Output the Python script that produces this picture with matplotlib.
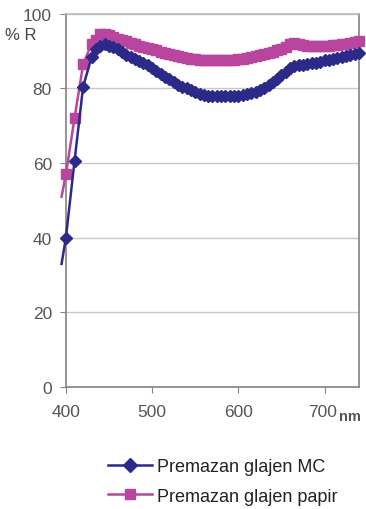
import matplotlib.pyplot as plt

plt.rcParams['font.family'] = ['Liberation Sans', 'DejaVu Sans']

# wavelength (nm): 10 nm steps at the steep start, then 5 nm steps
wavelength = [395, 400, 410, 420, 430] + list(range(435, 745, 5))

# Premazan glajen MC
refl_mc = [33, 40, 60.5, 80.5, 88.5,
           90.5, 91.5, 92, 91.5, 91, 90.5, 89.8, 89,
           88.5, 88, 87.4, 86.8, 86.2, 85.5, 84.8, 84, 83.2, 82.5, 81.8, 81, 80.5, 80,
           79.5, 79, 78.6, 78.3, 78.1, 78, 78, 78, 78, 78, 78, 78.1, 78.2, 78.5, 78.8,
           79.1, 79.5, 80.1, 80.8, 81.6, 82.5, 83.5, 84.5, 85.5, 86, 86.2, 86.3, 86.5,
           86.7, 86.9, 87.2, 87.5, 87.7, 87.9, 88.2, 88.5, 88.7, 89, 89.2, 89.5]

# Premazan glajen papir
refl_papir = [51, 57, 72, 86.5, 92,
              93, 94.5, 94.5, 94.3, 93.8, 93.3, 92.9, 92.6,
              92.3, 91.9, 91.5, 91.1, 90.8, 90.5, 90.2, 89.8, 89.5, 89.2, 89, 88.7, 88.5,
              88.2, 88, 87.8, 87.7, 87.6, 87.5, 87.5, 87.5, 87.5, 87.5, 87.6, 87.7, 87.8,
              88, 88.2, 88.5, 88.7, 89, 89.2, 89.5, 89.8, 90.2, 90.6, 91.2, 92, 92.3, 92,
              91.6, 91.4, 91.3, 91.3, 91.3, 91.4, 91.5, 91.6, 91.7, 91.8, 92, 92.2, 92.4, 92.7]

blue = '#2b2a88'
pink = '#b8469f'
label_color = '#555555'

fig = plt.figure(figsize=(3.66, 5.10), dpi=100)
ax = fig.add_axes([0.180, 0.239, 0.801, 0.732])

ax.plot(wavelength, refl_mc, color=blue, lw=1.8, marker='D', markersize=6.5,
        markevery=slice(1, None), clip_on=False, zorder=4)
ax.plot(wavelength, refl_papir, color=pink, lw=1.8, marker='s', markersize=6.5,
        markevery=slice(1, None), clip_on=False, zorder=3)

ax.set_xlim(400, 740)
ax.set_ylim(0, 100)
ax.set_xticks([400, 500, 600, 700])
ax.set_xticklabels(['400', '500', '600', ''])
ax.set_yticks([0, 20, 40, 60, 80, 100])
ax.yaxis.grid(True, color='#c8c8c8', lw=1)
ax.set_axisbelow(True)
for s in ax.spines.values():
    s.set_color('#8a8080')
    s.set_linewidth(1.2)
ax.spines['top'].set_color('#c0b8b8')
ax.tick_params(colors='#8a8080', labelcolor=label_color, labelsize=12.5, length=4)
ax.tick_params(axis='x', pad=8)
ax.tick_params(axis='y', pad=6)

fig.text(323 / 366, 1 - 413 / 510, '700', ha='center', va='center', fontsize=12.5, color=label_color)
fig.text(339 / 366, 1 - 417 / 510, 'nm', ha='left', va='center', fontsize=10.5,
         fontweight='bold', color='#555555')
fig.text(5 / 366, 1 - 36 / 510, '% R', ha='left', va='center', fontsize=12, color='#444444')

leg = fig.legend(['Premazan glajen MC', 'Premazan glajen papir'],
                 loc='upper left', bbox_to_anchor=(92 / 366, 1 - 443 / 510),
                 frameon=False, fontsize=13, handlelength=2.4, handletextpad=0.3,
                 labelspacing=0.68, markerscale=1.15)
for t in leg.get_texts():
    t.set_color('#222222')

fig.savefig('out.png', dpi=100)
